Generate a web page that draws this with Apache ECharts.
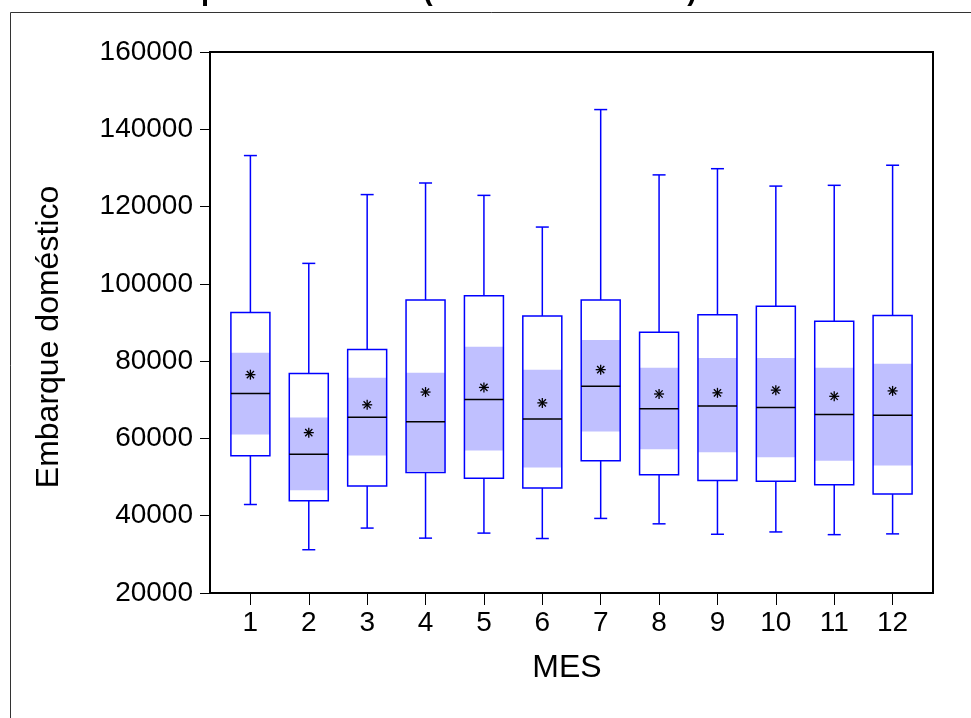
<!DOCTYPE html>
<html>
<head>
<meta charset="utf-8">
<script src="https://cdn.jsdelivr.net/npm/echarts@6/dist/echarts.min.js"></script>
<style>
  html, body { margin: 0; padding: 0; background: #fff; }
  #main { width: 971px; height: 718px; }
</style>
</head>
<body>
<div id="main"></div>
<script>
// Monthly domestic boardings, Vitória airport, 2000-2011: box-plot summary per month
const months = [1, 2, 3, 4, 5, 6, 7, 8, 9, 10, 11, 12];
const whiskerHigh = [133200, 105300, 123100, 126100, 122900, 114700, 145100, 128200, 129800, 125300, 125500, 130700];
const quartile3   = [92600, 76800, 83000, 95800, 96900, 91700, 95800, 87500, 92000, 94200, 90300, 91800];
const notchHigh   = [82200, 65400, 75700, 77000, 83700, 77800, 85500, 78300, 80800, 80800, 78300, 79300];
const medians     = [71600, 55900, 65500, 64300, 70100, 65000, 73500, 67700, 68400, 68000, 66200, 66000];
const notchLow    = [61000, 46600, 55600, 51600, 56900, 52500, 61800, 57200, 56400, 55100, 54200, 53000];
const quartile1   = [55500, 43900, 47700, 51200, 49700, 47200, 54200, 50600, 49100, 48900, 48000, 45600];
const whiskerLow  = [42900, 31200, 36800, 34200, 35500, 34100, 39300, 37900, 35200, 35800, 35100, 35300];
const means       = [76500, 61500, 68700, 72000, 73200, 69200, 77800, 71500, 71800, 72500, 70900, 72300];

const yTicks = [20000, 40000, 60000, 80000, 100000, 120000, 140000, 160000];

const FONT = '"Liberation Sans", Arial, sans-serif';
const BLUE = '#0000ff';
const SHADE = '#c0c0ff';

const boxData = months.map((m, i) => [
  m, whiskerLow[i], quartile1[i], notchLow[i], medians[i],
  notchHigh[i], quartile3[i], whiskerHigh[i], means[i]
]);

function renderBox(params, api) {
  const x = api.value(0);
  const py = v => api.coord([x, v])[1];
  const cx = api.coord([x, api.value(4)])[0];
  const yLow = py(api.value(1)), yQ1 = py(api.value(2)), yNL = py(api.value(3));
  const yMed = py(api.value(4)), yNH = py(api.value(5)), yQ3 = py(api.value(6));
  const yHigh = py(api.value(7)), yMean = py(api.value(8));
  const hw = 19.5, cw = 6.5, s = 5, d = 3.6;
  const line = (x1, y1, x2, y2, color, w) => ({
    type: 'line', shape: { x1, y1, x2, y2 },
    style: { stroke: color, lineWidth: w }
  });
  return {
    type: 'group',
    children: [
      line(cx, yHigh, cx, yQ3, BLUE, 1.5),
      line(cx - cw, yHigh, cx + cw, yHigh, BLUE, 1.5),
      line(cx, yQ1, cx, yLow, BLUE, 1.5),
      line(cx - cw, yLow, cx + cw, yLow, BLUE, 1.5),
      { type: 'rect', shape: { x: cx - hw, y: yQ3, width: 2 * hw, height: yQ1 - yQ3 },
        style: { fill: '#fff' } },
      { type: 'rect', shape: { x: cx - hw, y: yNH, width: 2 * hw, height: yNL - yNH },
        style: { fill: SHADE } },
      { type: 'rect', shape: { x: cx - hw, y: yQ3, width: 2 * hw, height: yQ1 - yQ3 },
        style: { fill: null, stroke: BLUE, lineWidth: 1.5 } },
      line(cx - hw, yMed, cx + hw, yMed, '#000', 1.5),
      // mean marker: eight-armed asterisk
      line(cx - s, yMean, cx + s, yMean, '#000', 1.3),
      line(cx, yMean - s, cx, yMean + s, '#000', 1.3),
      line(cx - d, yMean - d, cx + d, yMean + d, '#000', 1.3),
      line(cx - d, yMean + d, cx + d, yMean - d, '#000', 1.3)
    ]
  };
}

const chart = echarts.init(document.getElementById('main'));
chart.setOption({
  animation: false,
  backgroundColor: '#fff',
  grid: {
    left: 210, top: 52, right: 38, bottom: 125,
    show: true, borderColor: '#000', borderWidth: 2, backgroundColor: 'transparent'
  },
  xAxis: {
    type: 'value',
    min: 0.308, max: 12.692,
    splitLine: { show: false },
    axisLine: { show: true, lineStyle: { color: '#000', width: 2 } },
    axisTick: { show: true, inside: false, length: 12, customValues: months,
                lineStyle: { color: '#000', width: 1 } },
    axisLabel: { customValues: months, margin: 16, color: '#000',
                 fontSize: 28, fontFamily: FONT, formatter: v => String(v) }
  },
  yAxis: {
    type: 'value',
    min: 20000, max: 160000, interval: 20000,
    splitLine: { show: false },
    axisLine: { show: true, lineStyle: { color: '#000', width: 2 } },
    axisTick: { show: true, inside: false, length: 10, lineStyle: { color: '#000', width: 1 } },
    axisLabel: { margin: 17, color: '#000', fontSize: 28, fontFamily: FONT,
                 formatter: v => yTicks.includes(v) ? String(v) : '' }
  },
  graphic: [
    { type: 'rect', silent: true, z: -1,
      shape: { x: 10.5, y: 12.5, width: 1000, height: 1000 },
      style: { fill: null, stroke: '#333', lineWidth: 1 } },
    { type: 'text', x: 416, y: 6,
      style: { text: 'Aeroporto de Vitória (Jan/2000-Dez/2011)', fill: '#000',
               font: 'bold 29px ' + FONT, textAlign: 'center', textVerticalAlign: 'bottom' } },
    { type: 'text', x: 567, y: 668,
      style: { text: 'MES', fill: '#000', font: '32px ' + FONT,
               textAlign: 'center', textVerticalAlign: 'middle' } },
    { type: 'text', x: 49, y: 337, rotation: Math.PI / 2,
      style: { text: 'Embarque doméstico', fill: '#000', font: '32px ' + FONT,
               textAlign: 'center', textVerticalAlign: 'middle' } }
  ],
  series: [{
    type: 'custom',
    renderItem: renderBox,
    encode: { x: 0, y: [1, 7] },
    data: boxData,
    clip: false
  }]
});
</script>
</body>
</html>
